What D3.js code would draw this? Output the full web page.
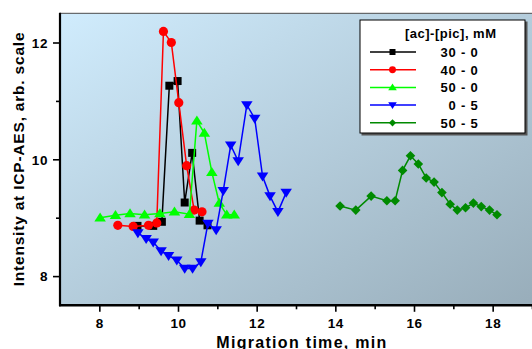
<!DOCTYPE html>
<html>
<head>
<meta charset="utf-8">
<script src="https://cdn.jsdelivr.net/npm/d3@7"></script>
<style>
  body { margin: 0; background: #fff; }
  svg { font-family: "Liberation Sans", Arial, sans-serif; font-weight: bold; }
</style>
</head>
<body>
<svg id="chart" width="532" height="349"></svg>
<script>
// series data: migration time (min) / intensity (arb.)
const s30_0_t = [8.97, 9.37, 9.59, 9.78, 9.99, 10.17, 10.36, 10.55, 10.75];
const s30_0_v = [8.86, 8.86, 8.93, 11.26, 11.34, 9.26, 10.11, 8.95, 8.87];

const s40_0_t = [8.47, 8.86, 9.25, 9.46, 9.63, 9.83, 10.02, 10.22, 10.41, 10.61];
const s40_0_v = [8.87, 8.85, 8.87, 8.91, 12.19, 12.0, 10.97, 9.89, 9.13, 9.10];

const s50_0_t = [8.02, 8.41, 8.78, 9.15, 9.54, 9.91, 10.29, 10.48, 10.67, 10.86, 11.05, 11.24, 11.43];
const s50_0_v = [9.0, 9.04, 9.07, 9.05, 9.07, 9.10, 9.06, 10.66, 10.45, 9.78, 9.25, 9.05, 9.05];

const s0_5_t = [8.98, 9.19, 9.37, 9.57, 9.76, 9.97, 10.17, 10.37, 10.58, 10.76, 10.97, 11.15, 11.34, 11.53, 11.75, 11.95, 12.15, 12.34, 12.54, 12.75];
const s0_5_v = [8.74, 8.64, 8.58, 8.43, 8.35, 8.27, 8.13, 8.13, 8.24, 8.90, 8.79, 9.46, 10.24, 9.97, 10.93, 10.70, 9.71, 9.37, 9.10, 9.43];

const s50_5_t = [14.12, 14.52, 14.91, 15.31, 15.52, 15.71, 15.91, 16.11, 16.31, 16.51, 16.71, 16.92, 17.10, 17.31, 17.51, 17.71, 17.92, 18.11];
const s50_5_v = [9.20, 9.13, 9.37, 9.29, 9.29, 9.81, 10.06, 9.92, 9.68, 9.61, 9.43, 9.23, 9.13, 9.17, 9.25, 9.19, 9.13, 9.05];

const seriesNames = ["30 - 0", "40 - 0", "50 - 0", "0 - 5", "50 - 5"];
const xTicks = [8, 10, 12, 14, 16, 18];
const yTicks = [8, 10, 12];

const series = [
  { name: seriesNames[0], t: s30_0_t, v: s30_0_v, color: "#000000", sym: "square" },
  { name: seriesNames[1], t: s40_0_t, v: s40_0_v, color: "#ff0000", sym: "circle" },
  { name: seriesNames[2], t: s50_0_t, v: s50_0_v, color: "#00ff00", sym: "up" },
  { name: seriesNames[3], t: s0_5_t, v: s0_5_v, color: "#0000ff", sym: "down" },
  { name: seriesNames[4], t: s50_5_t, v: s50_5_v, color: "#008a00", sym: "diamond" }
];

const svg = d3.select("#chart");
const pLeft = 60, pRight = 532, pTop = 13.3, pBottom = 305.3;

const x = d3.scaleLinear().domain([7, 19]).range([pLeft, pRight]);
const y = d3.scaleLinear().domain([7.5, 12.5]).range([pBottom, pTop]);

// background gradient
const defs = svg.append("defs");
const grad = defs.append("linearGradient").attr("id", "bg")
  .attr("x1", 0).attr("y1", 0).attr("x2", 1).attr("y2", 1);
grad.append("stop").attr("offset", "0%").attr("stop-color", "#d0ecfd");
grad.append("stop").attr("offset", "100%").attr("stop-color", "#98adba");

svg.append("rect")
  .attr("x", pLeft).attr("y", pTop)
  .attr("width", pRight - pLeft + 2).attr("height", pBottom - pTop)
  .attr("fill", "url(#bg)");

svg.append("line")
  .attr("x1", pLeft).attr("x2", pRight + 2).attr("y1", pTop).attr("y2", pTop)
  .attr("stroke", "#4a4a4a").attr("stroke-width", 1);

// marker shapes
function symbolPath(sym, r) {
  if (sym === "square") return `M${-r},${-r}H${r}V${r}H${-r}Z`;
  if (sym === "circle") return d3.symbol(d3.symbolCircle, Math.PI * r * r)();
  if (sym === "up") return `M0,${-r * 1.05}L${r * 1.15},${r * 0.75}L${-r * 1.15},${r * 0.75}Z`;
  if (sym === "down") return `M0,${r * 1.05}L${r * 1.15},${-r * 0.75}L${-r * 1.15},${-r * 0.75}Z`;
  return `M0,${-r * 1.2}L${r * 1.2},0L0,${r * 1.2}L${-r * 1.2},0Z`;
}
const markerR = { square: 4, circle: 4.6, up: 5, down: 5, diamond: 4 };

const line = d3.line().x(d => x(d[0])).y(d => y(d[1]));

const plot = svg.append("g");
series.forEach(s => {
  const pts = s.t.map((t, i) => [t, s.v[i]]);
  const g = plot.append("g");
  g.append("path")
    .attr("d", line(pts))
    .attr("fill", "none")
    .attr("stroke", s.color)
    .attr("stroke-width", 1.5);
  g.selectAll("path.m").data(pts).enter().append("path")
    .attr("class", "m")
    .attr("transform", d => `translate(${x(d[0])},${y(d[1])})`)
    .attr("d", symbolPath(s.sym, markerR[s.sym]))
    .attr("fill", s.color);
});

// x axis
const xAxis = svg.append("g").attr("transform", `translate(0,${pBottom})`)
  .call(d3.axisBottom(x).tickValues(d3.range(8, 20, 1)).tickSize(0).tickFormat(""));
xAxis.select(".domain").remove();
xAxis.selectAll(".tick line").remove();
xAxis.selectAll(".tick").append("line")
  .attr("y1", 0).attr("y2", d => xTicks.includes(d) ? 6.5 : 4)
  .attr("stroke", "#000").attr("stroke-width", 1.6);
xAxis.selectAll(".tick").filter(d => xTicks.includes(d)).append("text")
  .attr("y", 23).attr("fill", "#000").attr("text-anchor", "middle")
  .style("font-size", "13.5px").style("letter-spacing", "0.6px")
  .text(d => d);
svg.append("line")
  .attr("x1", pLeft - 1).attr("x2", pRight).attr("y1", pBottom).attr("y2", pBottom)
  .attr("stroke", "#000").attr("stroke-width", 2.4);

// y axis
const yAxis = svg.append("g").attr("transform", `translate(${pLeft},0)`)
  .call(d3.axisLeft(y).tickValues([8, 9, 10, 11, 12]).tickSize(0).tickFormat(""));
yAxis.select(".domain").remove();
yAxis.selectAll(".tick line").remove();
yAxis.selectAll(".tick").append("line")
  .attr("x1", 0).attr("x2", d => yTicks.includes(d) ? -7 : -4)
  .attr("stroke", "#000").attr("stroke-width", 1.6);
yAxis.selectAll(".tick").filter(d => yTicks.includes(d)).append("text")
  .attr("x", -12).attr("dy", "0.35em").attr("fill", "#000").attr("text-anchor", "end")
  .style("font-size", "13.5px").style("letter-spacing", "0.6px")
  .text(d => d);
svg.append("line")
  .attr("x1", pLeft).attr("x2", pLeft).attr("y1", pTop - 0.5).attr("y2", pBottom + 1)
  .attr("stroke", "#000").attr("stroke-width", 2.2);

// axis titles
svg.append("text")
  .attr("x", 302).attr("y", 347.5).attr("text-anchor", "middle")
  .style("font-size", "16px").style("letter-spacing", "1.3px")
  .text("Migration time, min");
svg.append("text")
  .attr("transform", "translate(24,159) rotate(-90)").attr("text-anchor", "middle")
  .style("font-size", "15.5px").style("letter-spacing", "0.8px")
  .text("Intensity at ICP-AES, arb. scale");

// legend
const lg = svg.append("g");
lg.append("rect").attr("x", 361.5).attr("y", 21.5).attr("width", 166).attr("height", 114)
  .attr("fill", "#555");
lg.append("rect").attr("x", 360).attr("y", 20).attr("width", 165).attr("height", 113)
  .attr("fill", "#fff").attr("stroke", "#000").attr("stroke-width", 1);
lg.append("text").attr("x", 405).attr("y", 38)
  .style("font-size", "13px").style("letter-spacing", "0.5px")
  .text("[ac]-[pic], mM");
series.forEach((s, i) => {
  const yy = 52 + i * 17.7;
  lg.append("line").attr("x1", 370).attr("x2", 416).attr("y1", yy).attr("y2", yy)
    .attr("stroke", s.color).attr("stroke-width", 1.5);
  lg.append("path").attr("transform", `translate(392.5,${yy})`)
    .attr("d", symbolPath(s.sym, markerR[s.sym] * 0.75)).attr("fill", s.color);
  lg.append("text").attr("x", 478.5).attr("y", yy + 5).attr("text-anchor", "end")
    .style("font-size", "13px").style("letter-spacing", "0.8px").style("white-space", "pre")
    .text(s.name);
});
</script>
</body>
</html>
